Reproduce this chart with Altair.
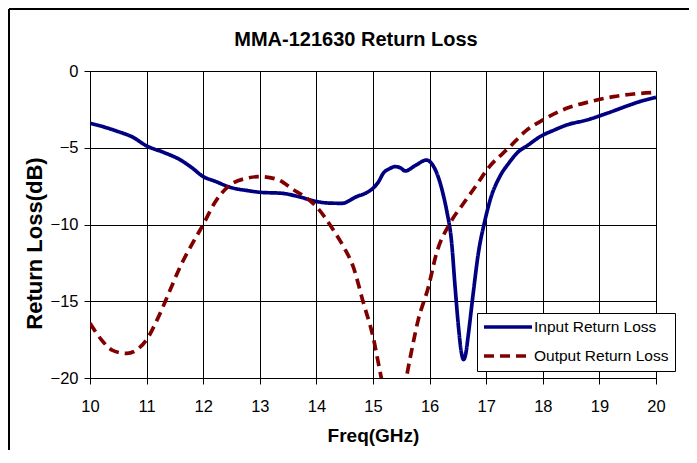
import altair as alt
import pandas as pd

# ---- data ----
series_names = ["Input Return Loss", "Output Return Loss"]

freq_in = [10.0, 10.25, 10.5, 10.75, 11.0, 11.3, 11.6, 11.8, 12.0, 12.2, 12.5, 12.8,
           13.0, 13.4, 13.7, 14.0, 14.2, 14.45, 14.7, 14.9, 15.0, 15.1, 15.18, 15.3,
           15.39, 15.48, 15.57, 15.75, 15.95, 16.05, 16.15, 16.25, 16.3, 16.39, 16.45,
           16.51, 16.56, 16.6, 16.64, 16.68, 16.77, 16.86, 16.98, 17.07, 17.24, 17.4,
           17.54, 17.75, 17.95, 18.2, 18.42, 18.78, 19.13, 19.54, 19.75, 20.0]
rl_in = [-3.41, -3.65, -3.95, -4.3, -4.88, -5.3, -5.8, -6.3, -6.88, -7.17, -7.6, -7.8,
         -7.9, -7.97, -8.2, -8.5, -8.6, -8.62, -8.2, -7.9, -7.64, -7.2, -6.67, -6.35,
         -6.23, -6.3, -6.51, -6.15, -5.8, -6.1, -6.88, -8.2, -9.06, -11.2, -14.05,
         -16.66, -18.3, -18.8, -18.4, -17.3, -14.5, -11.9, -9.7, -8.4, -6.88, -6.0,
         -5.36, -4.8, -4.28, -3.85, -3.52, -3.19, -2.76, -2.21, -1.95, -1.72]

freq_out = [10.0, 10.2, 10.4, 10.65, 10.85, 11.0, 11.2, 11.4, 11.6, 11.8, 12.0, 12.2,
            12.45, 12.75, 13.0, 13.3, 13.6, 13.8, 14.0, 14.3, 14.48, 14.65, 14.83, 15.0,
            15.12, 15.25, 15.38, 15.5, 15.65, 15.8, 15.98, 16.12, 16.36, 16.6, 16.83,
            17.01, 17.42, 17.7, 18.0, 18.42, 18.83, 19.25, 19.6, 20.0]
rl_out = [-16.44, -17.5, -18.2, -18.4, -18.1, -17.5, -16.1, -14.4, -12.7, -11.3, -10.0, -8.6,
          -7.5, -7.0, -6.88, -7.05, -7.75, -8.2, -8.84, -10.36, -11.45, -12.75, -15.1, -17.3,
          -19.5, -21.8, -22.6, -21.6, -18.8, -16.2, -14.05, -11.9, -9.92, -8.62, -7.43,
          -6.45, -4.93, -3.9, -3.19, -2.43, -2.0, -1.67, -1.5, -1.39]

x_ticks = [10, 11, 12, 13, 14, 15, 16, 17, 18, 19, 20]
y_ticks = [-20, -15, -10, -5, 0]

df = pd.concat([
    pd.DataFrame({"freq": freq_in, "rl": rl_in, "series": series_names[0], "order": range(len(freq_in))}),
    pd.DataFrame({"freq": freq_out, "rl": rl_out, "series": series_names[1], "order": range(len(freq_out))}),
], ignore_index=True)

REG = "'Liberation Sans', Arial, sans-serif"

legend_kw = dict(
    orient="none", legendX=387, legendY=242, title=None, direction="vertical",
    strokeColor="black", fillColor="white", padding=6, cornerRadius=0,
    labelFont=REG, labelFontSize=15.5, labelColor="black",
    symbolType="M-4,0H4", symbolSize=144, symbolStrokeWidth=3.5,
    symbolOffset=17, labelOffset=18, rowPadding=12,
)

lines = alt.Chart(df).mark_line(
    clip=True, strokeWidth=3.7, interpolate="monotone", strokeCap="butt"
).encode(
    x=alt.X("freq:Q",
            scale=alt.Scale(domain=[10, 20], nice=False, zero=False),
            axis=alt.Axis(values=x_ticks, title="Freq(GHz)", format="d",
                          labelFont=REG, labelFontSize=16.5, labelColor="black",
                          labelPadding=14, labelFlush=False,
                          tickSize=6, tickColor="black", domainColor="black",
                          gridColor="black", gridOpacity=1, gridWidth=1,
                          titleFont=REG, titleFontSize=19, titleFontWeight="bold",
                          titleColor="black", titleY=57, titleBaseline="middle")),
    y=alt.Y("rl:Q",
            scale=alt.Scale(domain=[-20, 0], nice=False, zero=False),
            axis=alt.Axis(values=y_ticks, title="Return Loss(dB)", format="d",
                          labelFont=REG, labelFontSize=16.5, labelColor="black",
                          labelPadding=6, labelFlush=False,
                          tickSize=6, tickColor="black", domainColor="black",
                          gridColor="black", gridOpacity=1, gridWidth=1,
                          titleFont=REG, titleFontSize=22, titleFontWeight="bold",
                          titleColor="black", titleX=-56, titleY=172,
                          titleAngle=270, titleAlign="center", titleBaseline="middle")),
    color=alt.Color("series:N",
                    scale=alt.Scale(domain=series_names, range=["#000080", "#800000"]),
                    legend=alt.Legend(**legend_kw)),
    strokeDash=alt.StrokeDash("series:N",
                              scale=alt.Scale(domain=series_names, range=[[1, 0], [10, 6]]),
                              legend=alt.Legend(**legend_kw)),
    order="order:Q",
)

one = pd.DataFrame({"a": [0]})
border_top = alt.Chart(one).mark_rule(color="black", strokeWidth=2).encode(
    x=alt.value(-81), x2=alt.value(600), y=alt.value(-62))
border_left = alt.Chart(one).mark_rule(color="black", strokeWidth=2).encode(
    x=alt.value(-81), y=alt.value(-62), y2=alt.value(380))

chart = alt.layer(lines, border_top, border_left).properties(
    width=566, height=307,
    padding={"left": 82, "top": 63, "right": 33, "bottom": 72},
    autosize=alt.AutoSizeParams(type="none"),
    background="white",
    title=alt.TitleParams("MMA-121630 Return Loss", font=REG, fontSize=20,
                          fontWeight="bold", color="black", anchor="middle",
                          baseline="alphabetic", offset=0, dy=58, dx=-17),
).configure_view(stroke=None)

chart.save("out.html", embed_options={"renderer": "svg", "actions": False})
